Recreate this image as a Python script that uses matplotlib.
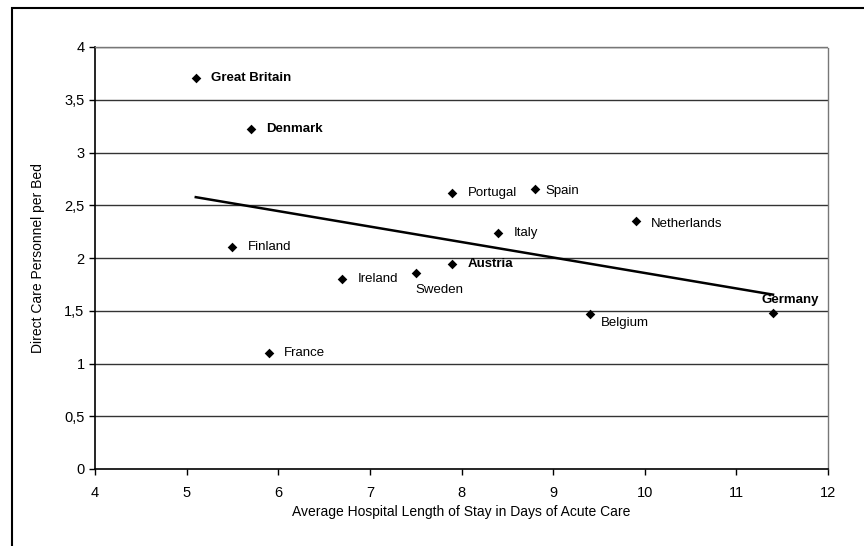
import numpy as np
import matplotlib
matplotlib.use("Agg")
import matplotlib.pyplot as plt
import matplotlib.ticker as ticker
from matplotlib.patches import Rectangle

plt.rcParams['font.family'] = ['Liberation Sans', 'DejaVu Sans']

countries = ['Great Britain', 'Denmark', 'Finland', 'France', 'Ireland', 'Sweden',
             'Austria', 'Portugal', 'Spain', 'Italy', 'Netherlands', 'Belgium', 'Germany']
stay_days = [5.1, 5.7, 5.5, 5.9, 6.7, 7.5, 7.9, 7.9, 8.8, 8.4, 9.9, 9.4, 11.4]
staff_per_bed = [3.71, 3.22, 2.10, 1.10, 1.80, 1.86, 1.94, 2.62, 2.65, 2.24, 2.35, 1.47, 1.48]
bold_countries = ['Great Britain', 'Denmark', 'Austria', 'Germany']

fig = plt.figure(figsize=(8.64, 5.46), dpi=100)
ax = fig.add_axes([95/864, 1 - 469/546, (828-95)/864, (469-47)/546])

x = np.array(stay_days)
y = np.array(staff_per_bed)

for yy in np.arange(0.5, 4.01, 0.5):
    ax.axhline(yy, color='#333333', lw=1.0, zorder=1)

ax.scatter(x, y, marker='D', s=24, color='black', zorder=3, linewidths=0)

# linear trend over the data range
k, b = np.polyfit(x, y, 1)
xs = np.array([x.min(), x.max()])
ax.plot(xs, k*xs + b, color='black', lw=1.8, zorder=2)

# label offsets in points (default: right of marker)
offsets = {'Sweden': (0, -8, 'top'), 'Germany': (-8, 9.5, 'center'),
           'Belgium': (8, -6.5, 'center'), 'Netherlands': (11, -2, 'center'),
           'Spain': (8, -1, 'center')}
for name, xi, yi in zip(countries, stay_days, staff_per_bed):
    w = 'bold' if name in bold_countries else 'normal'
    dx, dy, va = offsets.get(name, (11, 0, 'center'))
    ax.annotate(name, (xi, yi), xytext=(dx, dy), textcoords='offset points',
                ha='left', va=va, fontsize=9.5, fontweight=w, zorder=4)

ax.set_xlim(4, 12)
ax.set_ylim(0, 4)
ax.xaxis.set_major_locator(ticker.MultipleLocator(1))
ax.yaxis.set_major_locator(ticker.MultipleLocator(0.5))
ax.yaxis.set_major_formatter(ticker.FuncFormatter(lambda v, p: ('%g' % v).replace('.', ',')))
ax.tick_params(direction='out', length=4, width=1, labelsize=10.5, color='black')
ax.tick_params(axis='x', pad=8)

for s in ['left', 'bottom']:
    ax.spines[s].set_color('black')
    ax.spines[s].set_linewidth(1.2)
for s in ['right', 'top']:
    ax.spines[s].set_color('#777777')
    ax.spines[s].set_linewidth(1.0)
    ax.spines[s].set_linestyle((0, (1, 1)))

ax.set_xlabel('Average Hospital Length of Stay in Days of Acute Care', fontsize=10, labelpad=4)
ax.set_ylabel('Direct Care Personnel per Bed', fontsize=10, labelpad=14)

fig.patches.append(Rectangle((12/864, -0.1), 1.2, 1.1 - 8/546, transform=fig.transFigure,
                             fill=False, edgecolor='black', lw=1.5))

fig.savefig('out.png', dpi=100)
